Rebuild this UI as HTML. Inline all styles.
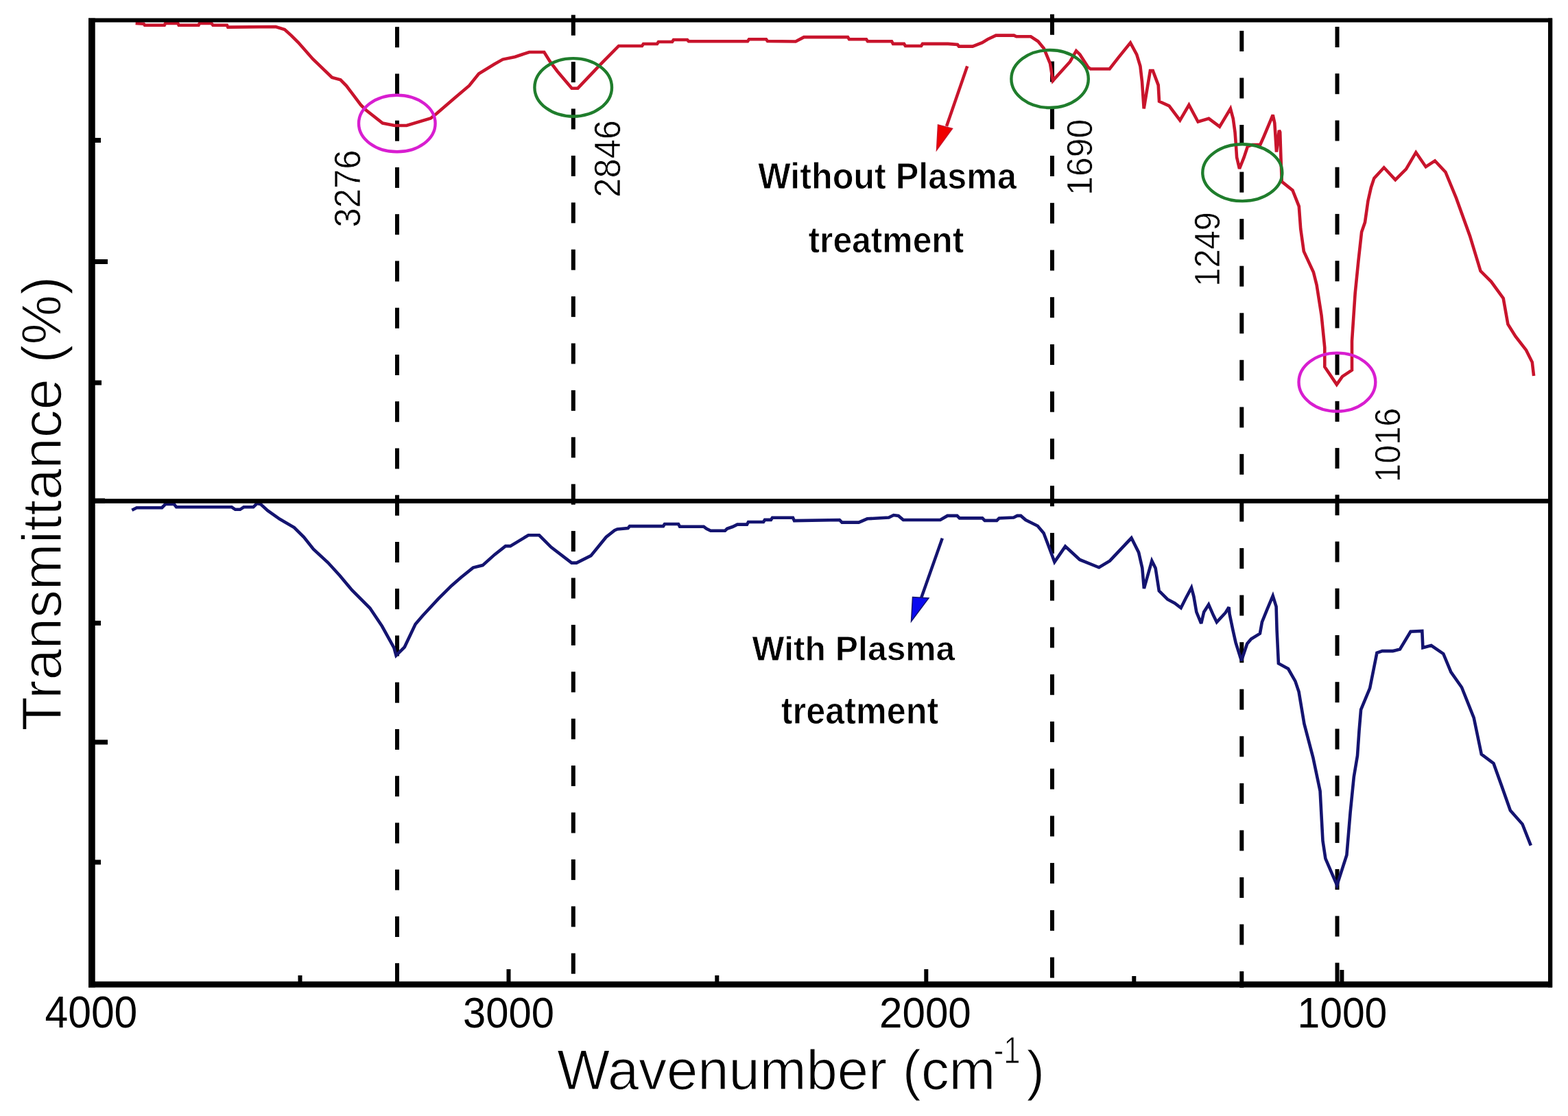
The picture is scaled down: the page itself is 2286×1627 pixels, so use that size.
<!DOCTYPE html>
<html><head><meta charset="utf-8"><title>FTIR Transmittance</title>
<style>html,body{margin:0;padding:0;background:#fff;}body{width:2286px;height:1627px;overflow:hidden;}svg{display:block;}text{font-family:"Liberation Sans",Arial,sans-serif;fill:#000;}</style>
</head><body>
<svg width="2286" height="1627" viewBox="0 0 2286 1627">
<rect x="0" y="0" width="2286" height="1627" fill="#fff"/>
<g fill="#000">
<rect x="576.0" y="39.2" width="6.0" height="30.0"/>
<rect x="576.0" y="107.5" width="6.0" height="30.0"/>
<rect x="576.0" y="175.7" width="6.0" height="30.0"/>
<rect x="576.0" y="243.9" width="6.0" height="30.0"/>
<rect x="576.0" y="312.2" width="6.0" height="30.0"/>
<rect x="576.0" y="380.4" width="6.0" height="30.0"/>
<rect x="576.0" y="448.7" width="6.0" height="30.0"/>
<rect x="576.0" y="517.0" width="6.0" height="30.0"/>
<rect x="576.0" y="585.2" width="6.0" height="30.0"/>
<rect x="576.0" y="653.5" width="6.0" height="30.0"/>
<rect x="576.0" y="721.7" width="6.0" height="30.0"/>
<rect x="576.0" y="790.0" width="6.0" height="30.0"/>
<rect x="576.0" y="858.2" width="6.0" height="30.0"/>
<rect x="576.0" y="926.5" width="6.0" height="30.0"/>
<rect x="576.0" y="994.7" width="6.0" height="30.0"/>
<rect x="576.0" y="1063.0" width="6.0" height="30.0"/>
<rect x="576.0" y="1131.2" width="6.0" height="30.0"/>
<rect x="576.0" y="1199.5" width="6.0" height="30.0"/>
<rect x="576.0" y="1267.7" width="6.0" height="30.0"/>
<rect x="576.0" y="1336.0" width="6.0" height="30.0"/>
<rect x="576.0" y="1404.2" width="6.0" height="30.0"/>
<rect x="832.8" y="21.7" width="6.0" height="30.0"/>
<rect x="832.8" y="90.1" width="6.0" height="30.0"/>
<rect x="832.8" y="158.5" width="6.0" height="30.0"/>
<rect x="832.8" y="226.9" width="6.0" height="30.0"/>
<rect x="832.8" y="295.3" width="6.0" height="30.0"/>
<rect x="832.8" y="363.7" width="6.0" height="30.0"/>
<rect x="832.8" y="432.1" width="6.0" height="30.0"/>
<rect x="832.8" y="500.5" width="6.0" height="30.0"/>
<rect x="832.8" y="568.9" width="6.0" height="30.0"/>
<rect x="832.8" y="637.3" width="6.0" height="30.0"/>
<rect x="832.8" y="705.7" width="6.0" height="30.0"/>
<rect x="832.8" y="774.1" width="6.0" height="30.0"/>
<rect x="832.8" y="842.5" width="6.0" height="30.0"/>
<rect x="832.8" y="910.9" width="6.0" height="30.0"/>
<rect x="832.8" y="979.3" width="6.0" height="30.0"/>
<rect x="832.8" y="1047.7" width="6.0" height="30.0"/>
<rect x="832.8" y="1116.1" width="6.0" height="30.0"/>
<rect x="832.8" y="1184.5" width="6.0" height="30.0"/>
<rect x="832.8" y="1252.9" width="6.0" height="30.0"/>
<rect x="832.8" y="1321.3" width="6.0" height="30.0"/>
<rect x="832.8" y="1389.7" width="6.0" height="30.0"/>
<rect x="1531.0" y="20.8" width="6.0" height="30.0"/>
<rect x="1531.0" y="89.5" width="6.0" height="30.0"/>
<rect x="1531.0" y="158.3" width="6.0" height="30.0"/>
<rect x="1531.0" y="227.0" width="6.0" height="30.0"/>
<rect x="1531.0" y="295.8" width="6.0" height="30.0"/>
<rect x="1531.0" y="364.5" width="6.0" height="30.0"/>
<rect x="1531.0" y="433.2" width="6.0" height="30.0"/>
<rect x="1531.0" y="502.0" width="6.0" height="30.0"/>
<rect x="1531.0" y="570.7" width="6.0" height="30.0"/>
<rect x="1531.0" y="639.5" width="6.0" height="30.0"/>
<rect x="1531.0" y="708.2" width="6.0" height="30.0"/>
<rect x="1531.0" y="776.9" width="6.0" height="30.0"/>
<rect x="1531.0" y="845.7" width="6.0" height="30.0"/>
<rect x="1531.0" y="914.4" width="6.0" height="30.0"/>
<rect x="1531.0" y="983.2" width="6.0" height="30.0"/>
<rect x="1531.0" y="1051.9" width="6.0" height="30.0"/>
<rect x="1531.0" y="1120.6" width="6.0" height="30.0"/>
<rect x="1531.0" y="1189.4" width="6.0" height="30.0"/>
<rect x="1531.0" y="1258.1" width="6.0" height="30.0"/>
<rect x="1531.0" y="1326.9" width="6.0" height="30.0"/>
<rect x="1531.0" y="1395.6" width="6.0" height="30.0"/>
<rect x="1807.3" y="44.9" width="6.0" height="30.0"/>
<rect x="1807.3" y="113.5" width="6.0" height="30.0"/>
<rect x="1807.3" y="182.0" width="6.0" height="30.0"/>
<rect x="1807.3" y="250.6" width="6.0" height="30.0"/>
<rect x="1807.3" y="319.1" width="6.0" height="30.0"/>
<rect x="1807.3" y="387.7" width="6.0" height="30.0"/>
<rect x="1807.3" y="456.3" width="6.0" height="30.0"/>
<rect x="1807.3" y="524.8" width="6.0" height="30.0"/>
<rect x="1807.3" y="593.4" width="6.0" height="30.0"/>
<rect x="1807.3" y="661.9" width="6.0" height="30.0"/>
<rect x="1807.3" y="730.5" width="6.0" height="30.0"/>
<rect x="1807.3" y="799.1" width="6.0" height="30.0"/>
<rect x="1807.3" y="867.6" width="6.0" height="30.0"/>
<rect x="1807.3" y="936.2" width="6.0" height="30.0"/>
<rect x="1807.3" y="1004.7" width="6.0" height="30.0"/>
<rect x="1807.3" y="1073.3" width="6.0" height="30.0"/>
<rect x="1807.3" y="1141.9" width="6.0" height="30.0"/>
<rect x="1807.3" y="1210.4" width="6.0" height="30.0"/>
<rect x="1807.3" y="1279.0" width="6.0" height="30.0"/>
<rect x="1807.3" y="1347.5" width="6.0" height="30.0"/>
<rect x="1807.3" y="1416.1" width="6.0" height="23.9"/>
<rect x="1946.5" y="39.0" width="6.0" height="30.0"/>
<rect x="1946.5" y="107.2" width="6.0" height="30.0"/>
<rect x="1946.5" y="175.5" width="6.0" height="30.0"/>
<rect x="1946.5" y="243.7" width="6.0" height="30.0"/>
<rect x="1946.5" y="311.9" width="6.0" height="30.0"/>
<rect x="1946.5" y="380.2" width="6.0" height="30.0"/>
<rect x="1946.5" y="448.4" width="6.0" height="30.0"/>
<rect x="1946.5" y="516.6" width="6.0" height="30.0"/>
<rect x="1946.5" y="584.8" width="6.0" height="30.0"/>
<rect x="1946.5" y="653.1" width="6.0" height="30.0"/>
<rect x="1946.5" y="721.3" width="6.0" height="30.0"/>
<rect x="1946.5" y="789.5" width="6.0" height="30.0"/>
<rect x="1946.5" y="857.8" width="6.0" height="30.0"/>
<rect x="1946.5" y="926.0" width="6.0" height="30.0"/>
<rect x="1946.5" y="994.2" width="6.0" height="30.0"/>
<rect x="1946.5" y="1062.5" width="6.0" height="30.0"/>
<rect x="1946.5" y="1130.7" width="6.0" height="30.0"/>
<rect x="1946.5" y="1198.9" width="6.0" height="30.0"/>
<rect x="1946.5" y="1267.1" width="6.0" height="30.0"/>
<rect x="1946.5" y="1335.4" width="6.0" height="30.0"/>
<rect x="1946.5" y="1403.6" width="6.0" height="30.0"/>
</g>
<polyline points="197.6,34.0 209.5,34.7 211.0,36.8 239.7,36.8 241.1,34.0 259.3,34.0 260.7,36.8 289.5,36.8 290.9,34.0 308.4,34.0 310.5,36.8 330.9,36.8 332.3,39.6 402.0,39.0 415.0,43.0 424.5,51.6 435.0,62.0 456.0,86.0 484.0,113.0 496.4,116.4 505.0,125.0 526.0,153.0 533.0,160.0 557.8,179.5 575.3,183.0 592.8,183.0 627.9,172.5 636.6,165.5 663.0,142.7 684.0,125.0 698.0,107.6 720.8,93.6 733.0,86.6 750.6,83.0 771.6,76.0 793.3,76.0 802.0,90.0 812.6,104.0 833.6,128.7 842.4,128.7 875.7,93.6 902.0,67.0 936.0,67.0 938.0,64.0 958.0,64.0 960.0,61.0 980.0,61.0 982.0,58.0 1002.0,58.0 1004.0,60.2 1090.0,60.2 1092.0,57.2 1117.0,57.2 1119.0,60.0 1160.0,60.5 1172.0,54.1 1236.0,54.1 1238.0,57.2 1263.0,57.2 1265.0,60.2 1300.0,60.2 1302.0,63.9 1318.0,63.9 1320.0,67.0 1343.0,67.0 1345.0,63.9 1382.0,63.9 1396.0,65.0 1398.0,67.6 1418.0,67.6 1432.0,62.1 1440.0,57.2 1452.0,51.6 1478.3,51.6 1481.8,53.3 1502.8,53.3 1513.4,60.3 1522.0,70.8 1531.0,92.6 1535.0,117.6 1560.0,90.0 1569.0,74.2 1574.4,79.4 1586.2,97.8 1590.0,100.5 1617.7,100.5 1631.0,83.4 1648.0,62.3 1657.2,79.4 1662.4,96.5 1665.0,118.9 1667.7,158.3 1671.6,134.6 1676.9,103.1 1680.8,103.1 1688.7,124.1 1690.0,147.8 1704.5,154.4 1720.3,175.4 1733.4,153.0 1746.6,177.5 1762.3,172.9 1778.1,184.7 1793.9,158.4 1797.8,172.9 1800.5,192.6 1801.8,209.7 1803.1,229.4 1807.0,246.0 1813.6,229.4 1818.9,213.6 1825.4,211.0 1837.3,211.0 1842.5,199.2 1855.7,167.6 1858.3,179.4 1861.0,221.5 1864.9,190.0 1866.2,192.6 1867.5,232.0 1868.8,264.9 1884.5,277.4 1893.8,300.8 1896.2,333.6 1900.8,366.4 1914.9,396.8 1919.6,415.5 1926.6,460.0 1931.3,506.8 1931.3,534.9 1948.8,560.6 1957.0,548.9 1971.0,539.6 1971.0,497.4 1975.7,427.2 1980.4,380.4 1985.1,338.3 1990.0,324.1 1994.4,293.1 1998.9,273.2 2003.3,259.9 2017.7,244.3 2034.3,262.1 2049.9,246.6 2064.3,222.2 2078.7,243.2 2092.0,234.4 2107.5,251.0 2123.0,288.7 2143.0,344.1 2158.5,395.1 2174.0,410.6 2191.7,435.0 2198.4,472.7 2209.5,490.4 2225.0,510.4 2233.8,528.1 2236.1,548.0" fill="none" stroke="#c8142c" stroke-width="4.6" stroke-linejoin="miter" stroke-miterlimit="3"/>
<polyline points="192.3,743.7 199.3,740.2 236.1,740.2 241.3,734.9 253.6,734.9 257.1,739.3 337.8,739.3 343.0,742.8 350.0,742.8 355.3,739.3 369.3,739.3 374.6,734.0 379.8,734.9 390.3,744.5 407.9,756.8 428.9,769.1 443.0,783.1 457.0,800.6 478.0,820.0 495.5,839.2 513.0,860.2 539.3,886.5 556.9,912.8 574.4,944.4 577.5,955.6 589.8,943.3 605.6,910.0 616.1,897.8 638.9,873.2 658.2,853.9 672.2,841.7 689.7,827.6 703.7,824.1 721.3,808.4 737.0,796.1 744.0,796.1 770.3,780.3 786.1,780.3 803.6,797.8 833.4,820.6 840.5,820.6 861.5,810.1 883.7,783.0 896.0,773.2 900.0,771.4 915.6,770.0 918.0,767.1 967.0,767.1 969.0,764.0 989.0,764.0 991.0,767.7 1026.0,767.7 1030.0,770.8 1036.0,773.8 1057.0,773.8 1060.0,770.8 1068.0,768.0 1075.0,764.6 1089.0,764.6 1091.0,761.0 1113.0,761.0 1115.0,757.9 1124.0,757.9 1126.0,754.8 1156.0,754.8 1158.0,759.1 1224.0,758.0 1227.5,761.6 1252.0,761.6 1264.3,756.3 1295.8,754.5 1302.8,751.0 1309.8,751.9 1316.9,758.0 1370.8,758.0 1381.3,751.9 1395.4,751.9 1398.9,755.4 1432.2,755.4 1435.7,758.9 1453.2,758.9 1456.7,755.4 1477.8,754.5 1483.0,751.9 1488.3,751.9 1495.3,758.0 1512.8,766.8 1521.6,777.3 1530.3,800.1 1537.4,819.4 1553.1,796.6 1574.2,815.9 1602.2,827.3 1618.0,817.6 1649.5,784.3 1660.1,805.4 1665.3,828.2 1667.9,858.0 1679.3,817.6 1684.6,828.2 1689.8,861.5 1702.1,873.7 1712.8,879.4 1721.7,886.3 1728.6,872.5 1737.0,856.7 1740.4,869.6 1744.3,892.2 1751.2,909.0 1755.2,892.2 1762.1,881.4 1769.0,897.1 1773.9,907.0 1786.7,893.2 1791.6,885.3 1792.6,895.2 1797.5,918.8 1801.5,936.6 1809.9,963.2 1818.2,938.5 1824.1,931.6 1836.9,923.7 1839.9,907.0 1847.8,887.3 1855.7,868.6 1860.6,884.3 1861.6,918.8 1863.9,967.2 1878.1,975.0 1888.4,993.1 1893.6,1008.6 1901.4,1055.2 1914.3,1104.3 1924.6,1153.4 1928.5,1225.8 1932.4,1251.7 1949.2,1290.5 1963.4,1246.5 1968.6,1184.5 1973.8,1132.7 1979.0,1101.7 1981.5,1065.5 1984.1,1034.5 1997.1,1003.4 2007.4,951.7 2015.2,949.1 2030.7,949.1 2041.0,946.5 2056.5,920.7 2073.3,920.0 2074.4,944.3 2086.6,941.0 2104.3,953.2 2115.4,979.8 2131.0,1002.0 2148.7,1046.3 2159.8,1099.6 2177.5,1112.9 2188.6,1143.9 2201.9,1181.6 2219.6,1201.6 2231.8,1232.6" fill="none" stroke="#141470" stroke-width="4.6" stroke-linejoin="miter" stroke-miterlimit="3"/>
<ellipse cx="578.8" cy="180.0" rx="55.8" ry="41.3" fill="none" stroke="#d81ed0" stroke-width="4.4"/>
<ellipse cx="835.7" cy="127.4" rx="56.3" ry="42.3" fill="none" stroke="#1f7d2c" stroke-width="4.4"/>
<ellipse cx="1530.6" cy="115.0" rx="56.2" ry="42.0" fill="none" stroke="#1f7d2c" stroke-width="4.4"/>
<ellipse cx="1811.3" cy="251.7" rx="58.0" ry="41.4" fill="none" stroke="#1f7d2c" stroke-width="4.4"/>
<ellipse cx="1949.4" cy="557.1" rx="55.9" ry="42.5" fill="none" stroke="#d81ed0" stroke-width="4.4"/>
<line x1="1410.2" y1="96.6" x2="1380" y2="184" stroke="#c8142c" stroke-width="4.5"/>
<polygon points="1367.5,182 1388.5,187.5 1365.5,219" fill="#f00000" stroke="#c8142c" stroke-width="1.5"/>
<line x1="1373.8" y1="784.8" x2="1343" y2="872" stroke="#141470" stroke-width="4.5"/>
<polygon points="1330.5,870.5 1354,872 1328.5,906" fill="#0a0af0" stroke="#141470" stroke-width="1.5"/>
<g fill="#000">
<rect x="129" y="26.5" width="2134" height="6"/>
<rect x="129" y="1430.8" width="2134" height="8.8"/>
<rect x="129" y="26.5" width="9.7" height="1413"/>
<rect x="2257" y="26.5" width="6.3" height="1413"/>
<rect x="129" y="727.2" width="2134" height="6.6"/>
<rect x="136" y="201.0" width="11.0" height="7"/>
<rect x="136" y="378.0" width="21.0" height="7"/>
<rect x="136" y="554.5" width="12.0" height="7"/>
<rect x="136" y="726.5" width="17.0" height="7"/>
<rect x="136" y="904.9" width="11.0" height="7"/>
<rect x="136" y="1078.5" width="21.0" height="7"/>
<rect x="136" y="1253.5" width="11.0" height="7"/>
<rect x="434.5" y="1422.0" width="6" height="10.0"/>
<rect x="738.5" y="1413.0" width="6" height="19.0"/>
<rect x="1042.3" y="1422.0" width="6" height="10.0"/>
<rect x="1347.3" y="1413.0" width="6" height="19.0"/>
<rect x="1650.3" y="1423.0" width="6" height="9.0"/>
<rect x="1953.4" y="1414.0" width="6" height="18.0"/>
</g>
<g transform="matrix(0.97788,0,0,1.03288,2.834,-49.109)"><text x="133" y="1498" font-size="62" text-anchor="middle">4000</text></g>
<g transform="matrix(0.96427,0,0,1.01113,27.074,-16.699)"><text x="741" y="1498" font-size="62" text-anchor="middle">3000</text></g>
<g transform="matrix(0.96974,0,0,1.02418,41.218,-36.452)"><text x="1348.5" y="1498" font-size="62" text-anchor="middle">2000</text></g>
<g transform="matrix(0.94812,0,0,1.02852,102.363,-42.946)"><text x="1956" y="1498" font-size="62" text-anchor="middle">1000</text></g>
<g transform="matrix(1.01117,0,0,1.00927,-10.901,-15.216)"><text x="814" y="1588.3" font-size="80.5" stroke="#fff" stroke-width="1.2">Wavenumber (cm</text></g>
<g transform="matrix(0.85971,0,0,1.11197,202.952,-171.892)"><text x="1449" y="1548.4" font-size="50.7" stroke="#fff" stroke-width="1">-1</text></g>
<g transform="matrix(0.98745,0,0,0.99537,21.306,7.065)"><text x="1494" y="1588.3" font-size="80.5" stroke="#fff" stroke-width="1.2">)</text></g>
<g transform="matrix(0.99812,0,0,0.99395,0.225,8.825)"><text transform="translate(88.5,1063) rotate(-90)" font-size="82" stroke="#fff" stroke-width="1.4">Transmittance (%)</text></g>
<g transform="matrix(0.98640,0,0,1.04413,14.233,-11.754)"><text x="1106" y="274.5" font-size="51" font-weight="bold" stroke="#fff" stroke-width="0.8">Without Plasma</text></g>
<g transform="matrix(0.97667,0,0,1.06811,27.907,-24.438)"><text x="1178" y="367.2" font-size="51" font-weight="bold" stroke="#fff" stroke-width="0.8">treatment</text></g>
<g transform="matrix(0.97691,0,0,0.98558,25.905,14.715)"><text x="1096" y="962.1" font-size="51" font-weight="bold" stroke="#fff" stroke-width="0.8">With Plasma</text></g>
<g transform="matrix(0.98707,0,0,1.07354,14.541,-77.205)"><text x="1139" y="1054.5" font-size="51" font-weight="bold" stroke="#fff" stroke-width="0.8">treatment</text></g>
<g transform="matrix(1.07514,0,0,1.01703,-39.891,-4.169)"><text transform="translate(525.6,330) rotate(-90)" font-size="50" stroke="#fff" stroke-width="0.6">3276</text></g>
<g transform="matrix(1.06842,0,0,1.01317,-61.390,-3.145)"><text transform="translate(903.9,287) rotate(-90)" font-size="50" stroke="#fff" stroke-width="0.6">2846</text></g>
<g transform="matrix(1.04614,0,0,0.99824,-73.842,1.308)"><text transform="translate(1592.6,284) rotate(-90)" font-size="50" stroke="#fff" stroke-width="0.6">1690</text></g>
<g transform="matrix(1.03460,0,0,0.97720,-61.950,9.240)"><text transform="translate(1778.6,418) rotate(-90)" font-size="50" stroke="#fff" stroke-width="0.6">1249</text></g>
<g transform="matrix(1.04070,0,0,0.97337,-83.435,18.614)"><text transform="translate(2041.6,703) rotate(-90)" font-size="50" stroke="#fff" stroke-width="0.6">1016</text></g>
</svg>
</body></html>
